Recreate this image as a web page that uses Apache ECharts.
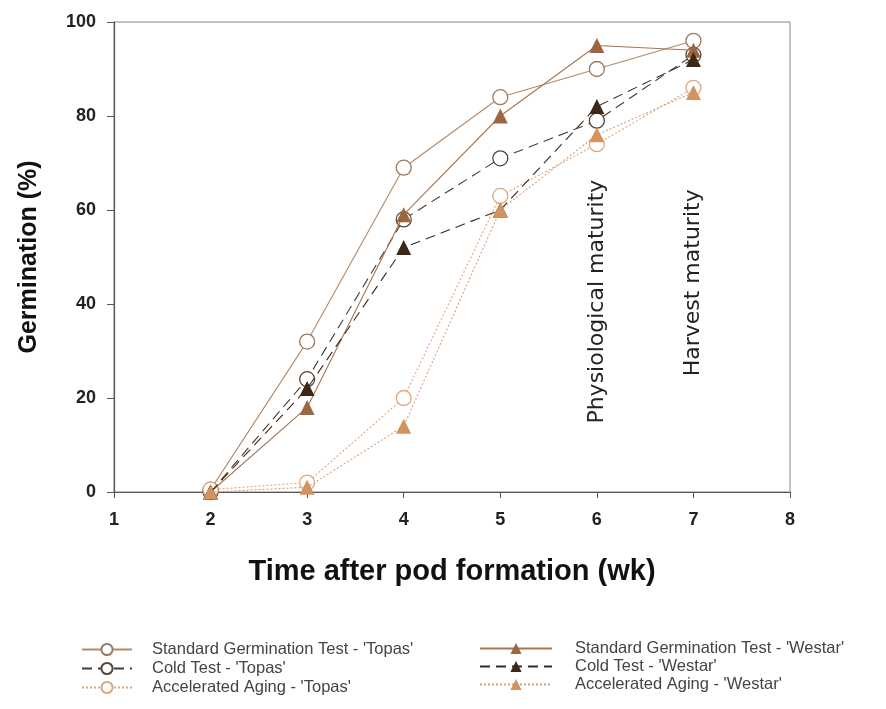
<!DOCTYPE html>
<html>
<head>
<meta charset="utf-8">
<script src="https://cdn.jsdelivr.net/npm/echarts@6/dist/echarts.min.js"></script>
<style>html,body{margin:0;padding:0;background:#fff;}#c{width:886px;height:709px;}</style>
</head>
<body>
<div id="c"></div>
<script>
var weeks = [2, 3, 4, 5, 6, 7];
var sgTopas = [0.5, 32, 69, 84, 90, 96];
var coldTopas = [0, 24, 58, 71, 79, 93];
var aaTopas = [0.5, 2, 20, 63, 74, 86];
var sgWestar = [0, 18, 59, 80, 95, 94];
var coldWestar = [0, 22, 52, 60, 82, 92];
var aaWestar = [0, 1, 14, 60, 76, 85];
var seriesNames = [
  "Standard Germination Test - 'Topas'",
  "Cold Test - 'Topas'",
  "Accelerated Aging - 'Topas'",
  "Standard Germination Test - 'Westar'",
  "Cold Test - 'Westar'",
  "Accelerated Aging - 'Westar'"
];
var annotations = [
  {text: 'Physiological maturity', x: 6, y: 40.5},
  {text: 'Harvest maturity', x: 7, y: 44.5}
];

function pairs(vals) { return weeks.map(function (w, i) { return [w, vals[i]]; }); }

var styles = [
  {data: sgTopas, symbol: 'circle', line: '#b48a68', fill: '#ffffff', border: '#9a7a62', type: 'solid'},
  {data: coldTopas, symbol: 'circle', line: '#4a3a2e', fill: '#ffffff', border: '#574536', type: [10, 6]},
  {data: aaTopas, symbol: 'circle', line: '#e2a57a', fill: '#ffffff', border: '#e3a77c', type: [2, 2]},
  {data: sgWestar, symbol: 'triangle', line: '#a8754f', fill: '#9b6640', border: '#9b6640', type: 'solid'},
  {data: coldWestar, symbol: 'triangle', line: '#3c2a1c', fill: '#3d2818', border: '#3d2818', type: [10, 6]},
  {data: aaWestar, symbol: 'triangle', line: '#d8a07a', fill: '#d2935f', border: '#d2935f', type: [2, 2]}
];

var series = styles.map(function (s, i) {
  return {
    name: seriesNames[i],
    type: 'line',
    data: pairs(s.data),
    symbol: s.symbol,
    symbolSize: 15,
    showAllSymbol: true,
    lineStyle: {color: s.line, width: 1.1, type: s.type},
    itemStyle: {color: s.fill, borderColor: s.border, borderWidth: s.symbol === 'circle' ? 1.3 : 0},
    z: s.symbol === 'circle' ? 2 : 3,
    animation: false
  };
});

var font = 'Liberation Sans, Arial, sans-serif';
var chart = echarts.init(document.getElementById('c'), null, {renderer: 'canvas'});
chart.setOption({
  backgroundColor: '#ffffff',
  animation: false,
  grid: {left: 114, right: 96, top: 22, bottom: 217, show: true, borderColor: '#b0b0b0', borderWidth: 1.5},
  xAxis: {
    type: 'value', min: 1, max: 8, interval: 1,
    name: 'Time after pod formation (wk)', nameLocation: 'middle', nameGap: 65,
    nameTextStyle: {fontFamily: font, fontWeight: 'bold', fontSize: 29, color: '#111'},
    axisLine: {lineStyle: {color: '#555', width: 1.2}},
    axisTick: {inside: false, length: 6, lineStyle: {color: '#555'}},
    axisLabel: {margin: 19, fontFamily: font, fontWeight: 'bold', fontSize: 18, color: '#222'},
    splitLine: {show: false}
  },
  yAxis: {
    type: 'value', min: 0, max: 100, interval: 20,
    name: 'Germination (%)', nameLocation: 'middle', nameGap: 72,
    nameTextStyle: {fontFamily: font, fontWeight: 'bold', fontSize: 25, color: '#111'},
    axisLine: {show: true, lineStyle: {color: '#555', width: 1.2}},
    axisTick: {show: true, inside: false, length: 7, lineStyle: {color: '#555'}},
    axisLabel: {margin: 18, fontFamily: font, fontWeight: 'bold', fontSize: 18, color: '#222'},
    splitLine: {show: false}
  },
  legend: [
    {
      data: seriesNames.slice(0, 3), orient: 'vertical', left: 76, top: 636,
      itemWidth: 50, itemHeight: 14, itemGap: 2,
      textStyle: {fontFamily: font, fontSize: 16.5, lineHeight: 16, color: '#444', padding: [0, 0, 0, 15]}, selectedMode: false
    },
    {
      data: seriesNames.slice(3), orient: 'vertical', left: 474, top: 635,
      itemWidth: 72, itemHeight: 14, itemGap: 1,
      textStyle: {fontFamily: font, fontSize: 16.5, lineHeight: 16, color: '#444', padding: [0, 0, 0, 18]}, selectedMode: false
    }
  ],
  series: series
});

var graphics = annotations.map(function (a) {
  var p = chart.convertToPixel({gridIndex: 0}, [a.x, a.y]);
  return {
    type: 'text', x: p[0], y: p[1], rotation: Math.PI / 2,
    style: {text: a.text, fontFamily: 'DejaVu Sans, sans-serif', fontSize: 22, fill: '#222',
            align: 'center', verticalAlign: 'middle'}
  };
});
chart.setOption({graphic: graphics});
</script>
</body>
</html>
